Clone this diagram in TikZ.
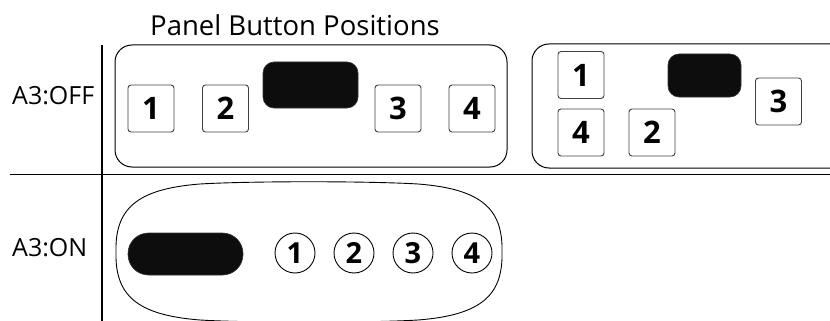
\documentclass[tikz,border=0pt]{standalone}
\usepackage{fontspec}
\setmainfont{Open Sans}
\begin{document}
\begin{tikzpicture}[x=1pt,y=-1pt,
  sqbtn/.style={draw=black!75,line width=0.9pt,rounded corners=3pt,minimum width=46pt,minimum height=47pt,inner sep=0pt,font=\fontsize{31}{31}\selectfont\bfseries},
  rdbtn/.style={draw=black,line width=0.9pt,circle,minimum size=40pt,inner sep=0pt,font=\fontsize{29}{29}\selectfont\bfseries},
  darkbox/.style={fill=black!95,draw=black!80,line width=0.6pt,rounded corners=11pt},
  panel/.style={draw=black,line width=1pt,rounded corners=17pt},
  divider/.style={draw=black,line width=1.8pt},
  lbl/.style={font=\fontsize{25}{25}\selectfont,inner sep=0pt}]
\useasboundingbox (0,0) rectangle (830,321);
% title and labels
\node[lbl,font=\fontsize{27.5}{27.5}\selectfont] (title) at (295,25) {Panel Button Positions};
\node[lbl,anchor=west] (off) at (12,96) {A3:OFF};
\node[lbl,anchor=west] (on) at (12,248) {A3:ON};
% dividers
\coordinate (vt) at (102,45);
\coordinate (vb) at (102,322);
\coordinate (hl) at (10,174.5);
\coordinate (hr) at (831,174.5);
\draw[divider] (vt) -- (vb);
\draw[divider] (hl) -- (hr);
% panel 1
\draw[panel] (115,45) rectangle (507,167);
\node[sqbtn] (a1) at (151,108.5) {1};
\node[sqbtn] (a2) at (225.5,108.5) {2};
\draw[darkbox] (263,62) rectangle (358,108);
\node[sqbtn] (a3) at (398,108.5) {3};
\node[sqbtn] (a4) at (472,108.5) {4};
% panel 2
\draw[panel] (532,44) rectangle (850,168);
\node[sqbtn] (b1) at (581,75) {1};
\node[sqbtn] (b4) at (581,132.5) {4};
\node[sqbtn] (b2) at (652,132.5) {2};
\draw[darkbox] (668,54) rectangle (741,97);
\node[sqbtn] (b3) at (778.5,101.5) {3};
% panel 3 (A3:ON)
\draw[line width=0.9pt] (116,252) .. controls (115,210) and (135,189) .. (200,184)
  .. controls (250,181) and (368,181) .. (418,184)
  .. controls (483,189) and (503,210) .. (502,252)
  .. controls (503,294) and (483,315) .. (418,320)
  .. controls (368,323) and (250,323) .. (200,320)
  .. controls (135,315) and (115,294) .. (116,252) -- cycle;
\draw[fill=black!95,draw=black!80,line width=0.6pt,rounded corners=20.5pt] (128,233) rectangle (243,275);
\node[rdbtn] (c1) at (295,253) {1};
\node[rdbtn] (c2) at (354,253) {2};
\node[rdbtn] (c3) at (413,253) {3};
\node[rdbtn] (c4) at (472,253) {4};
\end{tikzpicture}
\end{document}
